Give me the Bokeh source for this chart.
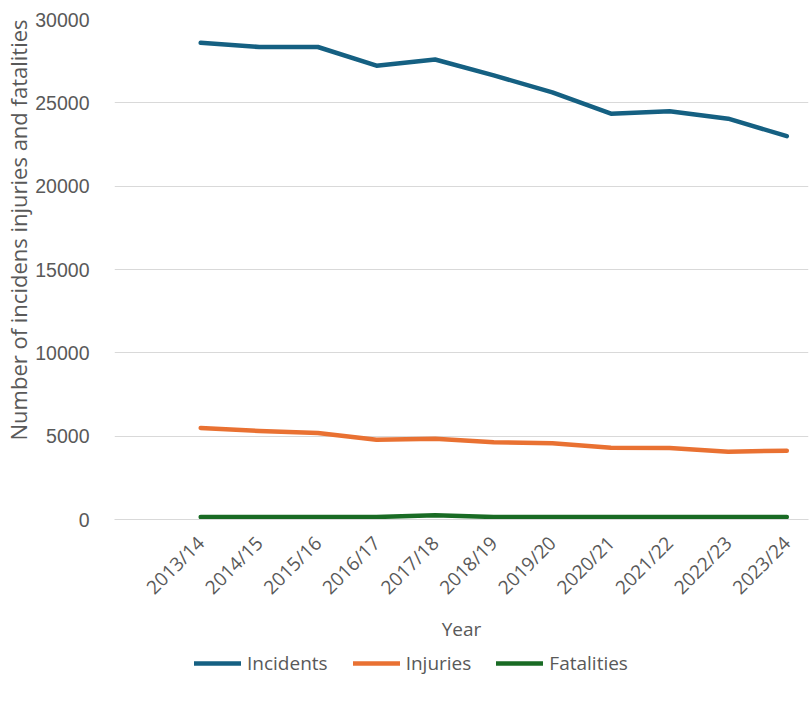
import math
from bokeh.plotting import figure
from bokeh.layouts import column
from bokeh.models import Range1d, FixedTicker, Legend, LegendItem, Title
from bokeh.embed import file_html
from bokeh.resources import INLINE

years = ["2013/14", "2014/15", "2015/16", "2016/17", "2017/18", "2018/19",
         "2019/20", "2020/21", "2021/22", "2022/23", "2023/24"]
incidents = [28600, 28350, 28350, 27230, 27600, 26650, 25630, 24350, 24500, 24050, 23000]
injuries = [5490, 5310, 5190, 4790, 4850, 4640, 4570, 4300, 4290, 4070, 4130]
fatalities = [150, 150, 150, 150, 250, 150, 150, 150, 150, 150, 150]
y_ticks = [0, 5000, 10000, 15000, 20000, 25000, 30000]
y_title = "Number of incidens injuries and fatalities"
series_names = ["Incidents", "Injuries", "Fatalities"]
colors = ["#156082", "#E97132", "#196B24"]

x = list(range(len(years)))
grey = "#595959"

p = figure(width=809, height=645,
           output_backend="svg", toolbar_location=None,
           x_range=Range1d(-1.47, 10.37), y_range=Range1d(0, 30000),
           min_border_left=113, min_border_right=1, min_border_top=19,
           min_border_bottom=126)
p.outline_line_color = None
p.background_fill_color = "white"
p.border_fill_color = "white"

for vals, c in zip([incidents, injuries, fatalities], colors):
    p.line(x, vals, line_color=c, line_width=4.5, line_cap="round", line_join="round")

p.xgrid.grid_line_color = None
p.ygrid.grid_line_color = "#d9d9d9"
p.ygrid.grid_line_width = 1.2
p.yaxis.ticker = FixedTicker(ticks=y_ticks)
p.yaxis.axis_line_color = None
p.yaxis.major_tick_line_color = None
p.yaxis.minor_tick_line_color = None
p.yaxis.major_label_text_font = "Liberation Sans"
p.yaxis.major_label_text_font_size = "19.5px"
p.yaxis.major_label_text_color = grey
p.yaxis.major_label_standoff = 19

p.add_layout(Title(text=y_title, align="left", offset=79, standoff=0,
                   text_font="Open Sans", text_font_size="22px",
                   text_font_style="normal", text_color=grey), "left")

p.xaxis.ticker = FixedTicker(ticks=x)
p.xaxis.major_label_overrides = {i: y for i, y in enumerate(years)}
p.xaxis.major_label_orientation = math.pi / 4
p.xaxis.axis_line_color = "#d9d9d9"
p.xaxis.major_tick_line_color = None
p.xaxis.minor_tick_line_color = None
p.xaxis.major_label_text_font = "Open Sans"
p.xaxis.major_label_text_font_size = "19px"
p.xaxis.major_label_text_color = grey
p.xaxis.major_label_standoff = 14
p.xaxis.axis_label = "Year"
p.xaxis.axis_label_text_font = "Open Sans"
p.xaxis.axis_label_text_font_style = "normal"
p.xaxis.axis_label_text_font_size = "19px"
p.xaxis.axis_label_text_color = grey
p.xaxis.axis_label_standoff = 4

# legend strip below the chart (its frame is aligned with the chart's frame)
p2 = figure(width=809, height=57, output_backend="svg", toolbar_location=None,
            x_range=Range1d(0, 1), y_range=Range1d(0, 1),
            x_axis_location=None, y_axis_location=None,
            min_border=0)
p2.outline_line_color = None
p2.xgrid.grid_line_color = None
p2.ygrid.grid_line_color = None
items = []
for name, c in zip(series_names, colors):
    r = p2.line([5, 6], [5, 5], line_color=c, line_width=4.5, line_cap="round")
    items.append(LegendItem(label=name, renderers=[r]))
legend = Legend(items=items, orientation="horizontal", location=(80, 26))
legend.border_line_color = None
legend.background_fill_alpha = 0
legend.label_text_font = "Open Sans"
legend.label_text_font_size = "19px"
legend.label_text_color = grey
legend.glyph_width = 47
legend.glyph_height = 26
legend.spacing = 25
legend.label_standoff = 6
legend.margin = 0
legend.padding = 0
p2.add_layout(legend)

layout = column(p, p2, spacing=0)
open("out.html", "w").write(file_html(layout, INLINE))
